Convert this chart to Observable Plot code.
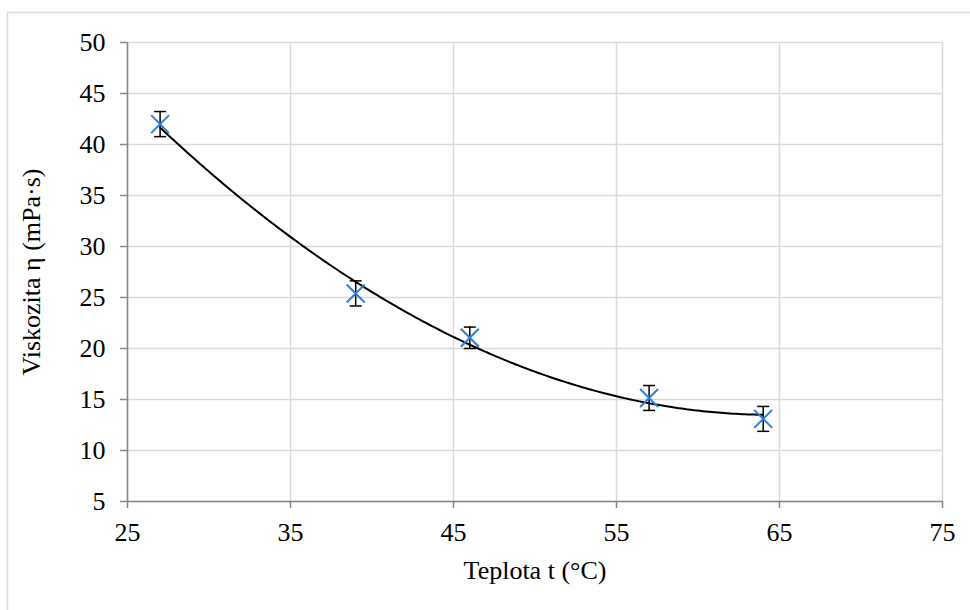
<!DOCTYPE html>
<html>
<head>
<meta charset="utf-8">
<script src="https://cdn.jsdelivr.net/npm/d3@7"></script>
<script src="https://cdn.jsdelivr.net/npm/@observablehq/plot@0.6"></script>
<style>
  html, body { margin: 0; padding: 0; background: #fff; }
  #chart { position: relative; width: 970px; height: 610px; }
</style>
</head>
<body>
<div id="chart"></div>
<script>
// Data
const temperature = [27, 39, 46, 57, 64];
const viscosity   = [42.0, 25.4, 21.05, 15.15, 13.1];
const errorHalf   = [1.23, 1.23, 1.05, 1.22, 1.22];
const xTicks = [25, 35, 45, 55, 65, 75];
const yTicks = [5, 10, 15, 20, 25, 30, 35, 40, 45, 50];

const data = temperature.map((t, i) => ({t, v: viscosity[i], lo: viscosity[i] - errorHalf[i], hi: viscosity[i] + errorHalf[i]}));

// Quadratic least-squares trendline (as Excel's polynomial order 2)
function quadFit(xs, ys) {
  let S = [0,0,0,0,0], T = [0,0,0];
  xs.forEach((x, i) => {
    for (let k = 0; k < 5; k++) S[k] += Math.pow(x, k);
    for (let k = 0; k < 3; k++) T[k] += ys[i] * Math.pow(x, k);
  });
  const A = [[S[0],S[1],S[2],T[0]],[S[1],S[2],S[3],T[1]],[S[2],S[3],S[4],T[2]]];
  for (let c = 0; c < 3; c++) {
    for (let r = c + 1; r < 3; r++) {
      const f = A[r][c] / A[c][c];
      for (let k = c; k < 4; k++) A[r][k] -= f * A[c][k];
    }
  }
  const b = [0,0,0];
  for (let r = 2; r >= 0; r--) {
    let s = A[r][3];
    for (let k = r + 1; k < 3; k++) s -= A[r][k] * b[k];
    b[r] = s / A[r][r];
  }
  return b;
}
const coef = quadFit(temperature, viscosity);
const tMin = d3.min(temperature), tMax = d3.max(temperature);
const trend = d3.range(0, 201).map(i => {
  const t = tMin + (tMax - tMin) * i / 200;
  return {t, v: coef[0] + coef[1] * t + coef[2] * t * t};
});

const crossSymbol = {draw(ctx, size) { const r = 9; ctx.moveTo(-r, -r); ctx.lineTo(r, r); ctx.moveTo(-r, r); ctx.lineTo(r, -r); }};
const capSymbol = {draw(ctx, size) { const w = 6; ctx.moveTo(-w, 0); ctx.lineTo(w, 0); }};

const font = "'Liberation Serif', 'Times New Roman', serif";
const axisColor = "#868686";
const gridColor = "#d9d9d9";

const plot = Plot.plot({
  width: 970,
  height: 610,
  marginLeft: 127,
  marginRight: 28,
  marginTop: 42,
  marginBottom: 109,
  style: {fontFamily: font, fontSize: "26px", color: "#000", background: "transparent", overflow: "visible"},
  x: {domain: [25, 75]},
  y: {domain: [5, 50]},
  marks: [
    Plot.gridX(xTicks, {stroke: gridColor, strokeOpacity: 1, strokeWidth: 1.5}),
    Plot.gridY(yTicks, {stroke: gridColor, strokeOpacity: 1, strokeWidth: 1.5}),
    Plot.axisX(xTicks, {tickSize: 7, tickPadding: 14, stroke: axisColor, strokeWidth: 1.5, fontSize: 26, tickFormat: d => String(d),
      label: "Teplota t (°C)", labelAnchor: "center", labelOffset: 77, labelArrow: "none"}),
    Plot.axisY(yTicks, {tickSize: 7, tickPadding: 15, stroke: axisColor, strokeWidth: 1.5, fontSize: 26, tickFormat: d => String(d),
      label: "Viskozita η (mPa·s)", labelAnchor: "center", labelOffset: 106, labelArrow: "none"}),
    Plot.ruleX([25], {stroke: axisColor, strokeWidth: 1.5}),
    Plot.ruleY([5], {stroke: axisColor, strokeWidth: 1.5}),
    Plot.line(trend, {x: "t", y: "v", stroke: "#000", strokeWidth: 2}),
    Plot.ruleX(data, {x: "t", y1: "lo", y2: "hi", stroke: "#000", strokeWidth: 1.5}),
    Plot.dot(data, {x: "t", y: "lo", symbol: capSymbol, stroke: "#000", strokeWidth: 1.5, r: 6}),
    Plot.dot(data, {x: "t", y: "hi", symbol: capSymbol, stroke: "#000", strokeWidth: 1.5, r: 6}),
    Plot.dot(data, {x: "t", y: "v", symbol: crossSymbol, stroke: "#2C80D8", strokeWidth: 2, r: 9})
  ]
});

// Outer chart-area border (as in the reference)
d3.select(plot).insert("rect", ":first-child")
  .attr("x", 7.5).attr("y", 12.5).attr("width", 980).attr("height", 620)
  .attr("fill", "none").attr("stroke", "#d9d9d9").attr("stroke-width", 1.5);

document.getElementById("chart").appendChild(plot);
</script>
</body>
</html>
